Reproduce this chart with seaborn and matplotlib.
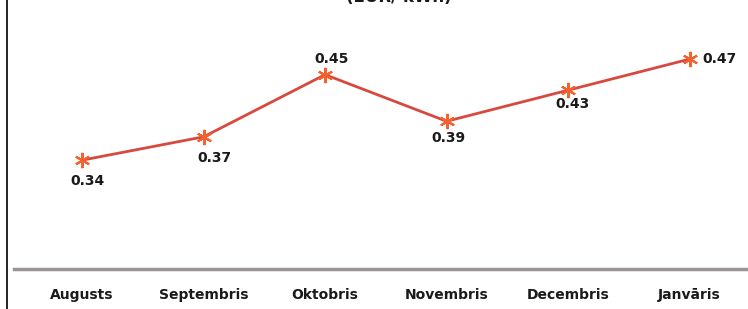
import matplotlib
matplotlib.use("Agg")
import matplotlib.pyplot as plt
from matplotlib.lines import Line2D
import seaborn as sns
import pandas as pd

months = ["Augusts", "Septembris", "Oktobris", "Novembris", "Decembris", "Janvāris"]
prices = [0.34, 0.37, 0.45, 0.39, 0.43, 0.47]
# label offsets in points (dx, dy) relative to each point
label_dx = [4, 8, 5, 1, 3, 9]
label_dy = [-15, -15, 11, -12, -10, 0]
label_ha = ["center", "center", "center", "center", "center", "left"]

sns.set_theme(style="white")
plt.rcParams["font.family"] = ["Liberation Sans Narrow", "DejaVu Sans"]

df = pd.DataFrame({"x": range(len(months)), "price": prices})

fig = plt.figure(figsize=(7.48, 3.09), dpi=100)
ax = fig.add_axes([14 / 748, 1 - 269 / 309, 734 / 748, 269 / 309])

sns.lineplot(data=df, x="x", y="price", ax=ax, sort=False, color="#d9483f",
             linewidth=2, marker=(6, 2, 0), markersize=11,
             markeredgecolor="#f4602e", markeredgewidth=1.5)

for i, v in enumerate(prices):
    ax.annotate(f"{v:.2f}", (i, v), xytext=(label_dx[i], label_dy[i]),
                textcoords="offset points", ha=label_ha[i], va="center",
                fontsize=10, fontweight="bold", color="#1a1a1a")

ax.set_xlim(-0.56, 5.48)
ax.set_ylim(0.20, 0.546)
ax.set_xticks(range(len(months)))
ax.set_xticklabels(months, fontsize=10, fontweight="bold", color="#1a1a1a")
ax.tick_params(axis="x", length=0, pad=14)
ax.set_yticks([])
ax.set_xlabel("")
ax.set_ylabel("")
for s in ["top", "right", "left"]:
    ax.spines[s].set_visible(False)
ax.spines["bottom"].set_color("#9c9494")
ax.spines["bottom"].set_linewidth(2.5)

# left frame edge
fig.add_artist(Line2D([7 / 748, 7 / 748], [0, 1], color="black", linewidth=1.2,
                      transform=fig.transFigure))

# title cut at the top edge, as in the source image
fig.text(399 / 748, 1 - 6 / 309, "(EUR/ kWh)", ha="center", va="bottom",
         fontsize=12, fontweight="bold", color="#1a1a1a")

fig.savefig("out.png", dpi=100)
